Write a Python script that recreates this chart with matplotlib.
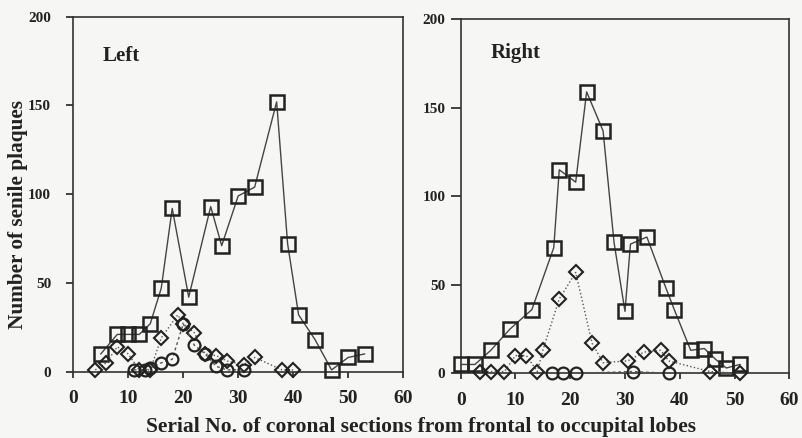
import matplotlib
matplotlib.use("Agg")
import matplotlib.pyplot as plt

plt.rcParams['font.family'] = ['Liberation Serif', 'DejaVu Serif']
plt.rcParams['font.weight'] = 'bold'

# left hemisphere
left_sq_x = [5, 8, 10, 12, 14, 16, 18, 21, 25, 27, 30, 33, 37, 39, 41, 44, 47, 50, 53]
left_sq_y = [10, 21, 21, 21, 27, 47, 92, 42, 93, 71, 99, 104, 152, 72, 32, 18, 1, 8, 10]
left_di_x = [4, 6, 8, 10, 12, 14, 16, 19, 20, 22, 24, 26, 28, 31, 33, 38, 40]
left_di_y = [1, 5, 14, 10, 1, 1, 19, 32, 27, 22, 10, 9, 6, 4, 8, 1, 1]
left_ci_x = [11, 13, 14, 16, 18, 20, 22, 24, 26, 28, 31]
left_ci_y = [1, 1, 2, 5, 7, 27, 15, 10, 3, 1, 1]

# right hemisphere
right_sq_x = [0, 2.6, 5.5, 9, 13, 17, 18, 21, 23, 26, 28, 30, 31, 34, 37.5, 39, 42, 44.5, 46.5, 48.5, 51]
right_sq_y = [5, 5, 13, 25, 36, 71, 115, 108, 159, 137, 74, 35, 73, 77, 48, 36, 13, 14, 8, 3, 5]
right_di_x = [3.5, 5.5, 8, 10, 12, 14, 15, 18, 21, 24, 26, 30.5, 33.5, 36.5, 38, 45.5, 51]
right_di_y = [1, 1, 1, 10, 10, 1, 13, 42, 57, 17, 6, 7, 12, 13, 7, 1, 0]
right_ci_x = [16.6, 18.6, 21, 31.5, 38]
right_ci_y = [0, 0, 0, 1, 0]

bg = '#f6f6f4'
ink = '#222222'

fig = plt.figure(figsize=(8.03, 4.38), dpi=100, facecolor=bg)
ax1 = fig.add_axes([0.0913, 0.1514, 0.4106, 0.8105])
ax2 = fig.add_axes([0.5737, 0.1477, 0.4092, 0.8082])


def draw_panel(ax, sq_x, sq_y, di_x, di_y, ci_x, ci_y, name, ylen, ypad, name_y):
    ax.set_facecolor(bg)
    ax.plot(sq_x, sq_y, '-', color='#444444', lw=1.0, marker='s', ms=10,
            mfc='none', mec=ink, mew=1.8, clip_on=False, zorder=3)
    ax.plot(di_x, di_y, ':', color='#555555', lw=1.0, marker='D', ms=7,
            mfc='none', mec=ink, mew=1.5, clip_on=False, zorder=3)
    ax.plot(ci_x, ci_y, '--', color='#555555', lw=1.0, dashes=(2, 2), marker='o', ms=8.5,
            mfc='none', mec=ink, mew=1.6, clip_on=False, zorder=3)
    ax.set_xlim(0, 60)
    ax.set_ylim(0, 200)
    ax.set_xticks([0, 10, 20, 30, 40, 50, 60])
    ax.set_yticks([0, 50, 100, 150, 200])
    ax.tick_params(axis='x', direction='out', length=4.5, width=1.2, labelsize=14, pad=9, colors=ink)
    ax.tick_params(axis='y', direction='out', length=ylen, width=1.2, labelsize=11, pad=ypad, colors=ink)
    for s in ax.spines.values():
        s.set_linewidth(1.2)
        s.set_color('#333333')
    ax.text(0.09, name_y, name, transform=ax.transAxes, fontsize=15,
            fontweight='bold', color=ink, ha='left', va='center')


draw_panel(ax1, left_sq_x, left_sq_y, left_di_x, left_di_y, left_ci_x, left_ci_y, 'Left', 5, 11, 0.89)
draw_panel(ax2, right_sq_x, right_sq_y, right_di_x, right_di_y, right_ci_x, right_ci_y, 'Right', 7, 4, 0.905)

fig.text(0.0225, 0.51, 'Number of senile plaques', rotation=90, fontsize=15.3,
         fontweight='bold', color=ink, ha='center', va='center')
fig.text(0.524, 0.0137, 'Serial No. of coronal sections from frontal to occupital lobes',
         fontsize=15.5, fontweight='bold', color=ink, ha='center', va='baseline')

fig.savefig('out.png', dpi=100, facecolor=bg)
